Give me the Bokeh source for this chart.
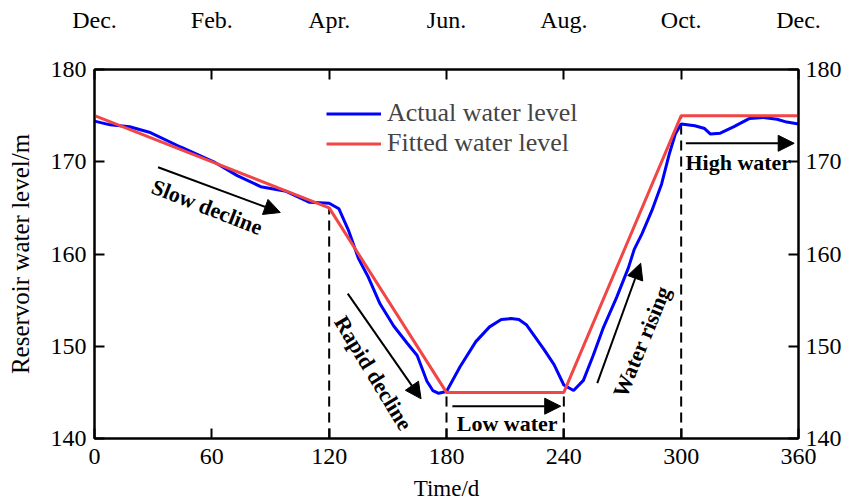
from bokeh.plotting import figure
from bokeh.models import (Range1d, LinearAxis, FixedTicker, Legend, LegendItem,
                          Arrow, NormalHead, Label)
from bokeh.embed import file_html
from bokeh.resources import INLINE

# ---- data ----
actual_day = [0, 8, 18, 28, 44, 61, 73, 85, 98, 110, 120, 125, 130, 135, 140, 146,
              153, 160, 165, 170, 173, 176, 180, 187, 195, 202, 208, 213, 217, 221,
              226, 230, 235, 240, 245, 250, 255, 260, 267, 273, 276, 280, 285, 290,
              294, 297, 300, 307, 312, 315, 320, 327, 335, 342, 349, 354, 360]
actual_level = [174.4, 174.0, 173.8, 173.2, 171.6, 170.0, 168.5, 167.3, 166.8, 165.6,
                165.5, 164.9, 162.5, 159.5, 157.5, 154.6, 152.2, 150.3, 149.0, 146.2,
                145.2, 144.9, 145.1, 147.8, 150.5, 152.1, 152.9, 153.0, 152.9, 152.3,
                150.8, 149.6, 148.0, 145.8, 145.2, 146.3, 149.0, 151.9, 155.3, 158.5,
                160.5, 162.2, 164.7, 167.6, 170.9, 173.0, 174.1, 173.9, 173.6, 173.0,
                173.1, 173.8, 174.7, 174.8, 174.6, 174.3, 174.1]
fitted_day = [0, 120, 180, 240, 300, 360]
fitted_level = [175, 165, 145, 145, 175, 175]

stage_day = [120, 180, 240, 300]
stage_top = [165, 145, 145, 175]

x_ticks = [0, 60, 120, 180, 240, 300, 360]
month_labels = ["Dec.", "Feb.", "Apr.", "Jun.", "Aug.", "Oct.", "Dec."]
y_ticks = [140, 150, 160, 170, 180]

# annotation texts / placement (data units)
ann_text = ["Slow decline", "Rapid decline", "Low water", "Water rising", "High water"]
ann_x = [57.6, 142.6, 211.0, 279.8, 329.2]
ann_y = [165.1, 147.1, 141.6, 150.5, 169.9]
ann_angle = [-21.4, -58.7, 0, 67.6, 0]
arrow_x0 = [32.5, 129.5, 183.0, 257.1, 302.4]
arrow_y0 = [169.4, 155.7, 143.5, 146.0, 172.0]
arrow_x1 = [95.0, 167.0, 238.4, 279.3, 357.8]
arrow_y1 = [164.5, 144.3, 143.5, 159.0, 172.0]

SERIF = "Liberation Serif"

p = figure(width=850, height=503, output_backend="svg", toolbar_location=None,
           x_range=Range1d(0, 360), y_range=Range1d(140, 180),
           min_border_left=94, min_border_right=52, min_border_top=69,
           min_border_bottom=64)
p.grid.visible = False
p.outline_line_color = "black"
p.outline_line_width = 2
p.background_fill_color = "white"
p.border_fill_color = "white"

def style_axis(ax, standoff, size="24px"):
    ax.axis_line_width = 2
    ax.major_tick_line_width = 2
    ax.major_tick_in = 10
    ax.major_tick_out = 0
    ax.minor_tick_line_color = None
    ax.major_label_standoff = standoff
    ax.major_label_text_font = SERIF
    ax.major_label_text_font_size = size
    ax.major_label_text_color = "black"
    ax.axis_label_text_font = SERIF
    ax.axis_label_text_font_style = "normal"
    ax.axis_label_text_color = "black"

p.xaxis.ticker = FixedTicker(ticks=x_ticks)
p.yaxis.ticker = FixedTicker(ticks=y_ticks)
style_axis(p.xaxis[0], 10)
style_axis(p.yaxis[0], 8)
p.xaxis.axis_label = "Time/d"
p.xaxis.axis_label_text_font_size = "23px"
p.xaxis.axis_label_standoff = 9
p.yaxis.axis_label = "Reservoir water level/m"
p.yaxis.axis_label_text_font_size = "25px"
p.yaxis.axis_label_standoff = 14

top = LinearAxis(ticker=FixedTicker(ticks=x_ticks),
                 major_label_overrides={t: m for t, m in zip(x_ticks, month_labels)})
style_axis(top, 37, "24px")
p.add_layout(top, "above")

right = LinearAxis(ticker=FixedTicker(ticks=y_ticks))
style_axis(right, 7)
p.add_layout(right, "right")

# stage boundaries
p.segment(x0=stage_day, y0=[140] * len(stage_day), x1=stage_day, y1=stage_top,
          line_color="black", line_width=2, line_dash="10 6")

blue = p.line(actual_day, actual_level, line_color="#0000ff", line_width=3)
red = p.line(fitted_day, fitted_level, line_color="#f24646", line_width=3)

legend = Legend(items=[LegendItem(label="Actual water level", renderers=[blue]),
                       LegendItem(label="Fitted water level", renderers=[red])],
                location=(232, 280), background_fill_alpha=0, border_line_alpha=0,
                label_text_font=SERIF, label_text_font_size="26px",
                glyph_width=55, glyph_height=29, label_height=29, spacing=0,
                padding=0, margin=0, label_standoff=6)
p.add_layout(legend, "center")

for i in range(len(ann_text)):
    p.add_layout(Arrow(end=NormalHead(size=16, fill_color="black", line_color="black"),
                       x_start=arrow_x0[i], y_start=arrow_y0[i],
                       x_end=arrow_x1[i], y_end=arrow_y1[i],
                       line_color="black", line_width=2))
    p.add_layout(Label(x=ann_x[i], y=ann_y[i], text=ann_text[i], angle=ann_angle[i],
                       angle_units="deg", text_align="center", text_baseline="middle",
                       text_font=SERIF, text_font_style="bold", text_font_size="22px",
                       text_color="black"))

open("out.html", "w").write(file_html(p, INLINE))
